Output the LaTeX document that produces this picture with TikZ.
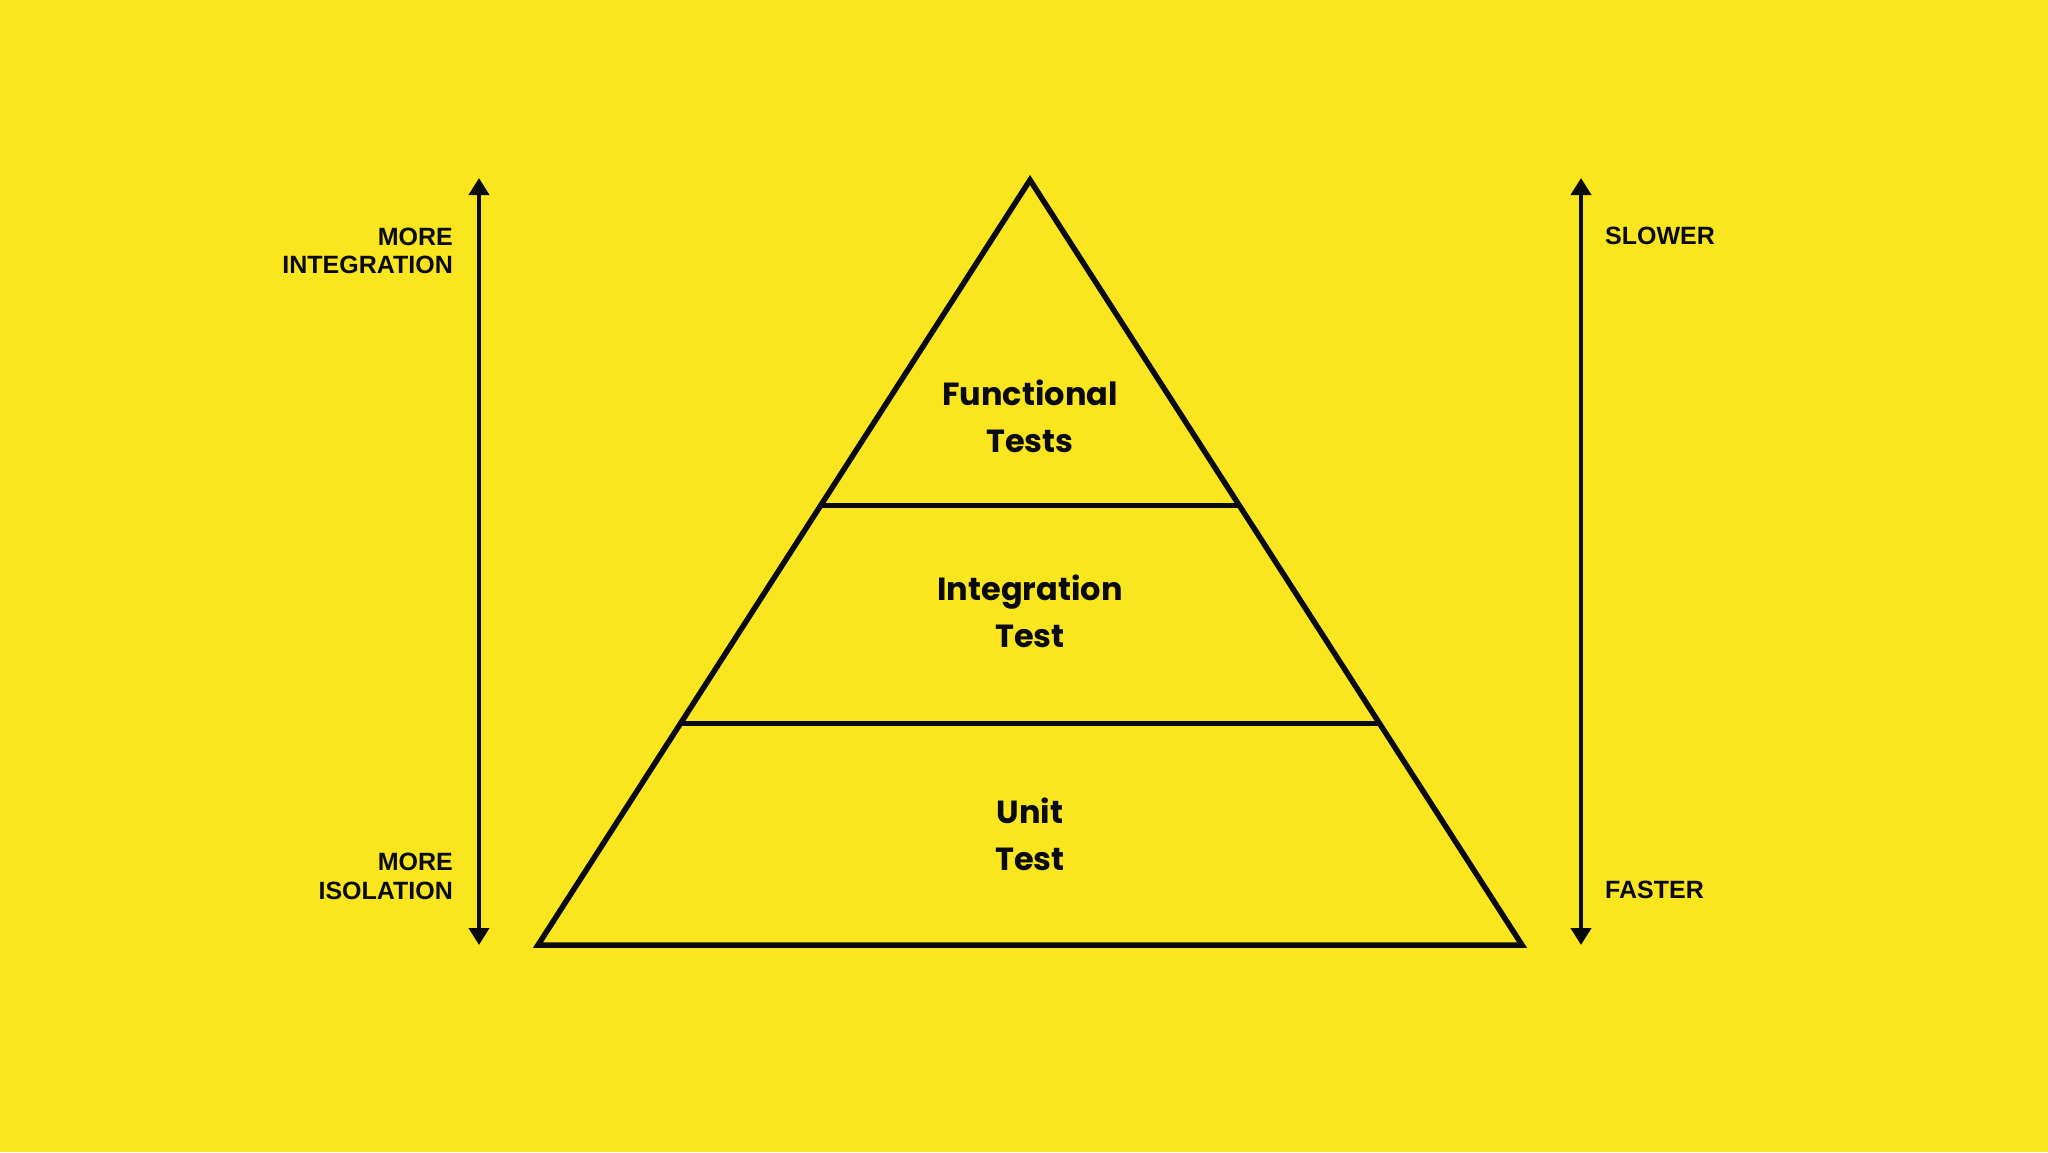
\documentclass[tikz,border=0pt]{standalone}
\usepackage{fontspec}
\usetikzlibrary{arrows.meta}
\newfontfamily\popfont{Poppins}
\newfontfamily\sidefont{Liberation Sans}
\definecolor{bgyellow}{RGB}{249,230,31}
\definecolor{ink}{RGB}{10,10,10}
\begin{document}
\begin{tikzpicture}[x=1pt,y=-1pt,
  edge/.style={draw=ink,line width=5.5pt,line join=miter},
  axis/.style={draw=ink,line width=4pt,{Triangle[width=20pt,length=17pt]}-{Triangle[width=20pt,length=17pt]}},
  sidelbl/.style={inner sep=0pt,text=ink,font=\sidefont\bfseries\fontsize{25}{28}\selectfont},
  mainlbl/.style={inner sep=0pt,anchor=base,text=ink,font=\popfont\bfseries\fontsize{32}{38}\selectfont}]
\fill[bgyellow] (0,0) rectangle (2048,1152);
\useasboundingbox (0,0) rectangle (2048,1152);
% pyramid
\coordinate (apex) at (1030,180);
\coordinate (bl) at (538,945);
\coordinate (br) at (1522,945);
\coordinate (d1l) at (821.5,505);
\coordinate (d1r) at (1238.5,505);
\coordinate (d2l) at (681.3,723);
\coordinate (d2r) at (1378.7,723);
\draw[edge] (apex) -- (br) -- (bl) -- cycle;
\draw[edge,line width=5pt] (d1l) -- (d1r);
\draw[edge,line width=5pt] (d2l) -- (d2r);
% labels in pyramid
\node[mainlbl] (f1) at (1030,405) {Functional};
\node[mainlbl] (f2) at (1030,452) {Tests};
\node[mainlbl] (i1) at (1030,600) {Integration};
\node[mainlbl] (i2) at (1030,647) {Test};
\node[mainlbl] (u1) at (1030,823) {Unit};
\node[mainlbl] (u2) at (1030,870) {Test};
% axes
\coordinate (lt) at (479,178);
\coordinate (lb) at (479,945);
\coordinate (rt) at (1581,178);
\coordinate (rb) at (1581,945);
\draw[axis] (lb) -- (lt);
\draw[axis] (rb) -- (rt);
% side labels
\node[sidelbl,anchor=base east] (mi1) at (453,245) {MORE};
\node[sidelbl,anchor=base east] (mi2) at (453,273) {INTEGRATION};
\node[sidelbl,anchor=base east] (ms1) at (453,870) {MORE};
\node[sidelbl,anchor=base east] (ms2) at (453,899) {ISOLATION};
\node[sidelbl,anchor=base west] (sl) at (1605,244) {SLOWER};
\node[sidelbl,anchor=base west] (fa) at (1605,898) {FASTER};
\end{tikzpicture}
\end{document}
